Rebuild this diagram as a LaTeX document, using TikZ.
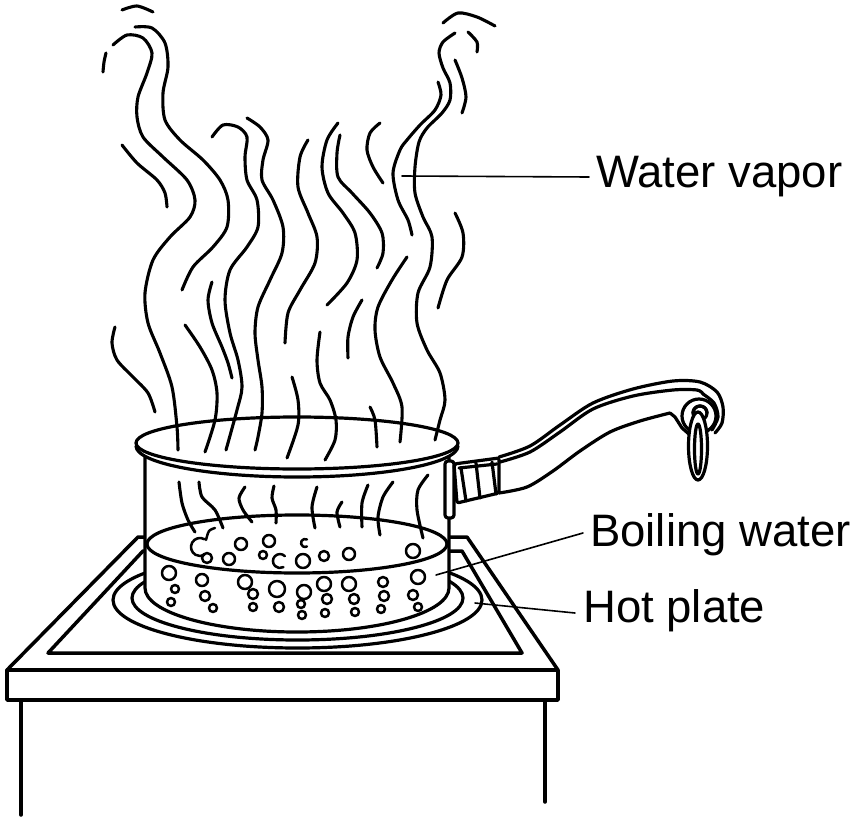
\documentclass[tikz,border=0pt]{standalone}
\usepackage{fontspec}
\setmainfont{Liberation Sans}
\begin{document}
\begin{tikzpicture}[x=1pt,y=-1pt,line cap=round,line join=round,
  vap/.style={line width=3.1pt},
  stoveline/.style={line width=3.5pt},
  potline/.style={line width=3.2pt},
  bub/.style={line width=2.5pt},
  leader/.style={line width=1.6pt},
  lab/.style={font=\fontsize{45.5}{52}\selectfont,inner sep=0pt,anchor=base west}]
\useasboundingbox (0,0) rectangle (859,824);
% ---------- stove ----------
\draw[stoveline] (138,537) -- (467,537) -- (558,670) -- (7,670) -- cycle;
\draw[stoveline] (143,551) -- (462,551) -- (522,653) -- (48,653) -- cycle;
\draw[stoveline] (7,670) rectangle (558,700);
\draw[stoveline] (21,700) -- (21,815);
\draw[stoveline] (545,700) -- (545,802);
% ---------- hot plate ----------
\draw[potline] (297.5,600) ellipse[x radius=184.5pt,y radius=48pt];
\draw[potline] (297.5,598) ellipse[x radius=165.5pt,y radius=42pt];
% ---------- pot ----------
\fill[white] (297,443) ellipse[x radius=161pt,y radius=26pt];
\fill[white] (136,446) arc[start angle=180,end angle=360,x radius=161pt,y radius=31pt]
  -- (449,457) -- (449,588) arc[start angle=0,end angle=-180,x radius=152pt,y radius=44pt]
  -- (145,457) -- cycle;
\draw[potline] (297,443) ellipse[x radius=161pt,y radius=26pt];
\draw[potline] (136,446) arc[start angle=180,end angle=360,x radius=161pt,y radius=31pt];
\draw[potline] (145,457) -- (145,588) arc[start angle=180,end angle=360,x radius=152pt,y radius=44pt] -- (449,457);
% water surface
\draw[potline] (297,544) ellipse[x radius=150pt,y radius=29pt];
% bubbles
\foreach \bx/\by/\br in {207/558/5,229/559/6,241/544/6,269/541/6,263/555/4,303/561/7,324/556/5,349/554/6,413/551/7,
  169/573/7,175/589/4,171/602/4,202/580/6,205/596/5,213/608/4,245/582/7,253/594/5,253/607/4,
  277/589/8,279/607/5,304/592/7,301/604/4,302/615/4,324/584/7,327/599/5,325/613/4,
  349/584/7,354/599/5,355/612/4,383/582/5,384/596/5,381/609/4,418/577/7,413/595/5,418/607/4}
  \draw[bub] (\bx,\by) circle[radius=\br pt];
\draw[bub] (204.5,539.2) arc[start angle=60,end angle=300,radius=9pt];
\draw[bub] plot[smooth] coordinates {(206,540) (209,531) (215,528)};
\draw[bub] (284.9,556.1) arc[start angle=45,end angle=300,radius=7pt];
\draw[bub] (307,539.5) arc[start angle=60,end angle=300,radius=4pt];
% steam inside pot
\draw[vap] plot[smooth] coordinates {(179,482) (182,503) (188,520) (195,532)};
\draw[vap] plot[smooth] coordinates {(199,482) (202,497) (215,510) (223,528)};
\draw[vap] plot[smooth] coordinates {(245,487) (239,498) (243,510) (252,522)};
\draw[vap] plot[smooth] coordinates {(274,486) (272,498) (276,510) (276,523)};
\draw[vap] plot[smooth] coordinates {(317,487) (312,507) (315,528)};
\draw[vap] plot[smooth] coordinates {(342,502) (337,512) (340,527)};
\draw[vap] plot[smooth] coordinates {(368,485) (362,503) (362,527)};
\draw[vap] plot[smooth] coordinates {(393,482) (383,497) (378,517) (380,535)};
\draw[vap] plot[smooth] coordinates {(428,475) (418,490) (417,510) (423,538)};
% ---------- water vapor ----------
\draw[vap] plot[smooth] coordinates {(122,10) (137,6) (153,12)};
\draw[vap] plot[smooth] coordinates {(106,53) (104,62) (103,72)};
\draw[vap] plot[smooth] coordinates {(113,45) (127,35) (143,38) (152,53) (147,73) (138,97) (137,117) (143,137) (163,157) (187,180) (195,200) (190,217) (170,237) (153,260) (145,293) (148,323) (160,353) (172,387) (177,427) (178,450)};
\draw[vap] plot[smooth] coordinates {(135,27) (152,28) (165,43) (168,67) (163,93) (165,120) (180,140) (203,160) (220,180) (228,200) (227,227) (213,247) (193,267) (182,290)};
\draw[vap] plot[smooth] coordinates {(122,145) (137,163) (157,180) (165,193) (167,207)};
\draw[vap] plot[smooth] coordinates {(115,327) (112,343) (117,360) (133,377) (148,393) (155,412)};
\draw[vap] plot[smooth] coordinates {(212,137) (223,125) (238,127) (247,137) (245,157) (247,180) (257,200) (258,227) (247,247) (230,270) (225,300) (230,333) (238,360) (242,387) (237,410) (226,450)};
\draw[vap] plot[smooth] coordinates {(247,118) (260,127) (268,140) (263,160) (262,180) (273,200) (283,227) (282,253) (270,280) (258,307) (255,333) (258,360) (262,387) (262,413) (258,437) (255,450)};
\draw[vap] plot[smooth] coordinates {(212,282) (208,300) (212,323) (222,347) (228,363) (232,378)};
\draw[vap] plot[smooth] coordinates {(185,325) (200,347) (212,370) (217,393) (215,420) (205,452)};
\draw[vap] plot[smooth] coordinates {(308,140) (300,157) (298,187) (308,213) (317,237) (315,263) (300,290) (288,313) (285,343)};
\draw[vap] plot[smooth] coordinates {(338,123) (327,140) (322,167) (328,193) (343,213) (355,233) (357,260) (347,283) (327,305)};
\draw[vap] plot[smooth] coordinates {(340,135) (337,153) (338,177) (352,193) (370,213) (382,233) (383,253) (377,268)};
\draw[vap] plot[smooth] coordinates {(380,123) (370,133) (367,150) (373,167) (383,183)};
\draw[vap] plot[smooth] coordinates {(362,300) (353,317) (348,337) (348,358)};
\draw[vap] plot[smooth] coordinates {(292,377) (298,400) (298,425) (287,458)};
\draw[vap] plot[smooth] coordinates {(320,332) (317,360) (320,383) (330,400) (336,420) (335,440) (325,460)};
\draw[vap] plot[smooth] coordinates {(438,82) (441,95) (435,110) (420,125) (407,140) (400,150) (393,173) (398,200) (408,220) (412,235)};
\draw[vap] plot[smooth] coordinates {(455,33) (443,42) (439,53) (443,68) (450,83) (450,100) (442,113) (427,128) (419,142) (415,167) (415,193) (423,217) (432,237) (430,267) (418,293) (417,323) (427,350) (440,373) (445,400) (440,420) (435,440)};
\draw[vap] plot[smooth] coordinates {(455,60) (462,78) (466,97) (462,113)};
\draw[vap] plot[smooth] coordinates {(468,32) (477,42) (477,52)};
\draw[vap] plot[smooth] coordinates {(443,23) (458,13) (477,17) (495,26)};
\draw[vap] plot[smooth] coordinates {(455,213) (463,233) (462,257) (447,280) (438,308)};
\draw[vap] plot[smooth] coordinates {(407,257) (392,280) (378,307) (375,330) (380,357) (393,383) (402,407) (400,442)};
\draw[vap] plot[smooth] coordinates {(370,407) (375,420) (377,447)};
% ---------- handle ----------
\draw[potline,fill=white,rounded corners=3pt] (445,461) rectangle (454,518);
\draw[potline,fill=white,rounded corners=2pt] (454,464) -- (499,458) -- (499,493) -- (457,503) -- cycle;
\draw[potline] (459,468) -- (497,464);
\draw[potline] (461,468) -- (466,501);
\draw[potline] (476,463) -- (480,498);
\draw[potline] (492,462) -- (496,494);
\draw[potline] plot[smooth] coordinates {(499,457) (530,446) (560,425) (593,403) (633,389) (673,381) (700,382) (717,392) (723,407) (722,423) (715,433)};
\draw[potline] plot[smooth] coordinates {(500,462) (530,452) (560,432) (593,409) (633,396) (673,390) (697,390) (703,394)};
\draw[potline] plot[smooth] coordinates {(703,394) (714,403) (718,417) (712,430)};
\draw[potline] plot[smooth] coordinates {(499,493) (527,487) (553,471) (580,451) (610,432) (640,421) (670,413)};
\draw[potline] (670,413) -- (675,417) -- (682,428) -- (690,435);
\draw[potline,fill=white] (699,416) circle[radius=17pt];
\draw[potline] (700,413) circle[radius=7pt];
\draw[potline,fill=white] (698,446) ellipse[x radius=9.5pt,y radius=34pt];
\draw[potline] (698,449) ellipse[x radius=3.5pt,y radius=25pt];
\draw[potline] (707,413) arc[start angle=0,end angle=180,radius=7pt];
% ---------- labels ----------
\node[lab] (wv) at (596,187) {Water vapor};
\node[lab] (bw) at (590,546) {Boiling water};
\node[lab] (hp) at (583,622) {Hot plate};
\coordinate (wvs) at (402,176);
\coordinate (wve) at (589,177);
\coordinate (bws) at (436,575);
\coordinate (bwe) at (583,533);
\coordinate (hps) at (475,603);
\coordinate (hpe) at (575,613);
\draw[leader] (wvs) -- (wve);
\draw[leader] (bws) -- (bwe);
\draw[leader] (hps) -- (hpe);
\end{tikzpicture}
\end{document}
